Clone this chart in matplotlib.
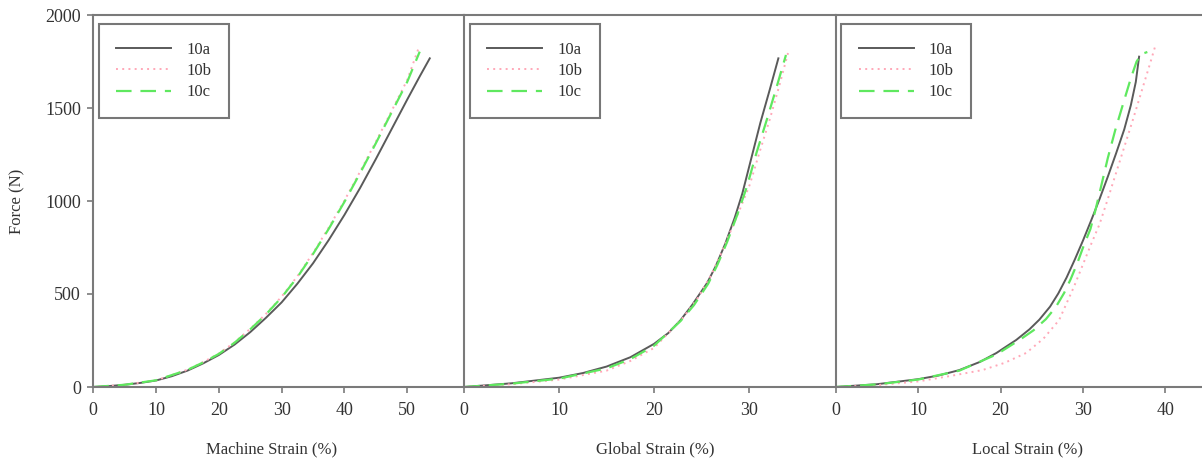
import matplotlib
matplotlib.use("Agg")
import matplotlib.pyplot as plt

plt.rcParams['font.family'] = ['Liberation Serif', 'DejaVu Serif']

# Panel 1: Machine strain
m_a_x = [0, 2.5, 5, 7.5, 10, 12.5, 15, 17.5, 20, 22.5, 25, 27.5, 30, 32.5, 35, 37.5,
         40, 42.5, 45, 47.5, 50, 52, 53.6]
m_a_y = [0, 5, 12, 22, 35, 58, 88, 127, 172, 228, 295, 372, 455, 555, 665, 790,
         925, 1070, 1225, 1385, 1545, 1670, 1767]
m_b_x = [0, 5, 10, 15, 17.5, 20, 22.5, 25, 27.5, 30, 32.5, 35, 37.5, 40, 42.5, 45,
         47.5, 50, 51.8]
m_b_y = [0, 12, 36, 93, 134, 180, 240, 313, 393, 486, 595, 720, 857, 1002, 1158, 1318,
         1483, 1650, 1820]
m_c_x = [0, 5, 10, 15, 17.5, 20, 22.5, 25, 27.5, 30, 32.5, 35, 37.5, 40, 42.5, 45,
         47.5, 50, 52.0]
m_c_y = [0, 12, 36, 92, 132, 178, 238, 310, 390, 482, 590, 715, 850, 995, 1150, 1310,
         1475, 1640, 1803]

# Panel 2: Global strain
g_a_x = [0, 5, 10, 12.5, 15, 17.5, 20, 21.5, 22.8, 24, 25.6, 26.5, 27.5, 28.5, 29.3,
         30.2, 31.2, 32.2, 33.1]
g_a_y = [0, 20, 50, 75, 110, 160, 232, 290, 360, 440, 560, 650, 770, 910, 1040,
         1220, 1420, 1600, 1767]
g_b_x = [0, 5, 10, 15, 17.5, 20, 23, 24.5, 26, 27, 28, 29, 30.1, 31.1, 32.2, 33.2, 34.2]
g_b_y = [0, 15, 40, 88, 140, 210, 370, 470, 600, 710, 830, 950, 1090, 1260, 1440,
         1620, 1812]
g_c_x = [0, 5, 10, 15, 17.5, 20, 22.8, 24.2, 25.7, 26.7, 27.7, 28.8, 29.8, 30.8, 31.9,
         32.9, 33.9]
g_c_y = [0, 18, 45, 100, 150, 222, 355, 440, 555, 660, 780, 930, 1080, 1260, 1440,
         1610, 1785]

# Panel 3: Local strain
l_a_x = [0, 5, 10, 12.5, 15, 17.5, 19.5, 21.9, 23.5, 24.7, 26, 27, 28, 29, 30,
         31, 32, 33, 34, 35, 35.8, 36.4, 36.8]
l_a_y = [0, 15, 42, 62, 91, 135, 183, 253, 310, 362, 432, 503, 588, 685, 788,
         897, 1010, 1130, 1255, 1385, 1515, 1640, 1776]
l_b_x = [0, 5, 10, 14, 17.8, 20.5, 23.1, 25.2, 27.1, 28.9, 30, 31, 32, 33, 34, 35,
         36, 37, 38, 38.8]
l_b_y = [0, 10, 30, 60, 91, 130, 183, 260, 360, 539, 660, 770, 875, 1010, 1150, 1290,
         1430, 1575, 1720, 1839]
l_c_x = [0, 5, 10, 15, 19.5, 22.3, 24, 25.5, 26.7, 27.7, 28.5, 29.3, 30, 30.9, 31.5,
         32.2, 33, 33.9, 35, 35.8, 36.5, 37.1, 37.8]
l_c_y = [0, 14, 40, 88, 175, 253, 305, 365, 430, 505, 580, 665, 750, 850, 950,
         1080, 1230, 1380, 1543, 1660, 1750, 1790, 1801]

series_names = ['10a', '10b', '10c']
panels = [
    ("Machine Strain (%)", (0, 59.1), [0, 10, 20, 30, 40, 50],
     [(m_a_x, m_a_y), (m_b_x, m_b_y), (m_c_x, m_c_y)]),
    ("Global Strain (%)", (0, 39.1), [0, 10, 20, 30],
     [(g_a_x, g_a_y), (g_b_x, g_b_y), (g_c_x, g_c_y)]),
    ("Local Strain (%)", (0, 45), [0, 10, 20, 30, 40],
     [(l_a_x, l_a_y), (l_b_x, l_b_y), (l_c_x, l_c_y)]),
]
label_xpos = [0.481, 0.516, 0.516]

styles = [
    dict(color='#5a5a5a', lw=1.4, ls='-'),
    dict(color='#ffa8b8', lw=1.4, ls=(0, (1, 2.2))),
    dict(color='#5fe85f', lw=1.6, ls=(0, (7, 4))),
]

W, H = 1202, 463
fig = plt.figure(figsize=(W / 100, H / 100), dpi=100)
spine_col = '#7a7a7a'
text_col = '#333333'
lefts = [93.3, 464.3, 835.7]
pw = 371.0
bottom_px, top_px = 387, 15

for i, (xl, xlim, xt, data) in enumerate(panels):
    ax = fig.add_axes([lefts[i] / W, 1 - bottom_px / H, pw / W, (bottom_px - top_px) / H])
    for (xs, ys), name, st in zip(data, series_names, styles):
        ax.plot(xs, ys, label=name, **st)
    ax.set_xlim(*xlim)
    ax.set_ylim(0, 2000)
    ax.set_xticks(xt)
    for s in ax.spines.values():
        s.set_color(spine_col)
        s.set_linewidth(1.5)
    ax.spines['right'].set_visible(False)
    ax.tick_params(axis='both', direction='out', length=4, width=1.2,
                   color=spine_col, labelsize=13, labelcolor=text_col)
    ax.tick_params(axis='x', pad=7)
    ax.tick_params(axis='y', pad=5)
    if i == 0:
        ax.set_yticks([0, 500, 1000, 1500, 2000])
        ax.set_ylabel("Force (N)", fontsize=12, color=text_col, labelpad=14)
    else:
        ax.set_yticks([])
    ax.set_xlabel(xl, fontsize=12, color=text_col)
    ax.xaxis.set_label_coords(label_xpos[i], -0.145)
    leg = ax.legend(loc='upper left', bbox_to_anchor=(0.015, 0.975), fontsize=12,
                    handlelength=3.3, handletextpad=0.9, borderpad=1.05,
                    labelspacing=0.32, fancybox=False, framealpha=1,
                    borderaxespad=0)
    leg.get_frame().set_edgecolor('#777777')
    leg.get_frame().set_linewidth(1.5)
    for t in leg.get_texts():
        t.set_color(text_col)

fig.savefig("out.png", dpi=100)
